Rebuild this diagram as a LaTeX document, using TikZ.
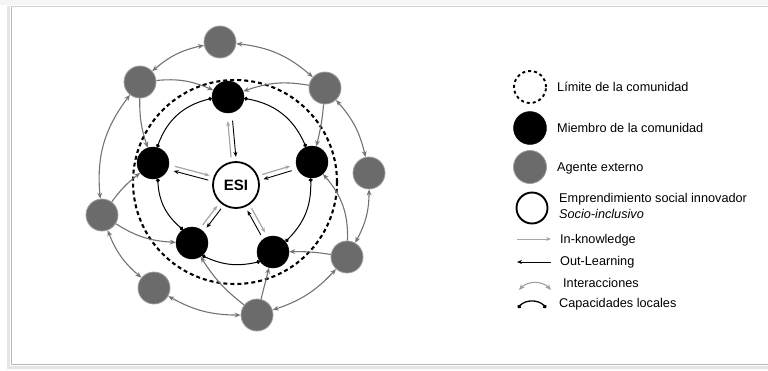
\documentclass[tikz,border=0pt]{standalone}
\usepackage{fontspec}
\setmainfont{Liberation Sans}
\usetikzlibrary{arrows.meta,calc,bending}
\begin{document}
\begin{tikzpicture}[x=1pt,y=1pt,
 agent/.style={circle,fill=black!58,draw=black!38,line width=0.8pt,minimum size=32pt,inner sep=0pt},
 member/.style={circle,fill=black,draw=black,minimum size=32pt,inner sep=0pt},
 esi/.style={circle,fill=white,draw=black,line width=1.8pt,minimum size=46pt,inner sep=0pt,font=\fontsize{15}{15}\selectfont\bfseries},
 inter/.style={draw=black!55,line width=1.1pt,{Stealth[length=6pt,width=4.8pt]}-{Stealth[length=6pt,width=4.8pt]}},
 toward/.style={draw=black!55,line width=1.1pt,-{Stealth[length=6pt,width=4.8pt]}},
 capac/.style={draw=black,line width=1pt,{Circle[length=3.8pt]}-{Circle[length=3.8pt]}},
 inknow/.style={draw=black!35,line width=1.2pt,-{Stealth[length=5pt,width=4pt]}},
 outlearn/.style={draw=black,line width=0.9pt,-{Stealth[length=5pt,width=4pt]}},
 limit/.style={draw=black,line width=2.1pt,dash pattern=on 4pt off 3pt},
 legtext/.style={anchor=west,font=\fontsize{12.7}{15.5}\selectfont,inner sep=0pt,align=left}
]
\useasboundingbox (0,0) rectangle (768,-370);
% frame
\fill[black!4] (0,0) rectangle (768,-5);
\draw[black!10,line width=3pt] (8,-6) -- (8,-367) -- (768,-367);
\draw[black!28,line width=1pt] (11,-6) -- (11,-364.5) -- (768,-364.5);
\draw[black!18,line width=0.8pt] (11,-6) -- (768,-6);

% community limit
\coordinate (C) at (235,-182);
\draw[limit] (C) circle[radius=102];

% nodes
\node[agent] (A1) at (220,-42) {};
\node[agent] (A2) at (140,-82) {};
\node[agent] (A3) at (325,-88) {};
\node[agent] (A4) at (369,-173) {};
\node[agent] (A5) at (347,-257) {};
\node[agent] (A6) at (257,-315) {};
\node[agent] (A7) at (154,-288) {};
\node[agent] (A8) at (102,-215) {};

\node[member] (M1) at (228,-97) {};
\node[member] (M2) at (153,-163) {};
\node[member] (M3) at (312,-162) {};
\node[member] (M4) at (192,-243) {};
\node[member] (M5) at (273,-252) {};

\node[esi] (ESI) at (236,-185) {ESI};

% interactions between external agents
\draw[inter] (A1) to[bend left=18] (A3);
\draw[inter] (A3) to[bend left=15] (A4);
\draw[inter] (A4) to[bend left=15] (A5);
\draw[inter] (A5) to[bend left=15] (A6);
\draw[inter] (A6) to[bend left=15] (A7);
\draw[inter] (A7) to[bend left=15] (A8);
\draw[inter] (A8) to[bend left=22] (A2);
\draw[inter] (A2) to[bend left=15] (A1);

% agents towards members
\draw[toward] (A2) to[bend left=15] (M1);
\draw[toward] (A3) to[bend right=15] (M1);
\draw[toward] (A2) to[bend right=10] (M2);
\draw[toward] (A3) to[bend left=5] (M3);
\draw[toward] (A8) to[bend left=8] (M2);
\draw[toward] (A8) to[bend right=15] (M4);
\draw[toward] (A5) to[bend right=22] (M3);
\draw[toward] (A5) to[bend right=5] (M5);
\draw[toward] (A6) to[bend left=10] (M4);
\draw[toward] (A6) to (M5);

% local capacities
\draw[capac] (M1.185) to[bend right=30] (M2.75);
\draw[capac] (M1.355) to[bend left=30] (M3.112);
\draw[capac] (M2.287) to[bend right=25] (M4.124);
\draw[capac] (M3.265) to[bend left=25] (M5.40);
\draw[capac] (M4.309) to[bend right=20] (M5.216);

% ESI pairs
\draw[inknow] ($(ESI)!28pt!(M1)!2.4pt!90:(M1)$) -- ($(M1)!24pt!(ESI)!2.4pt!-90:(ESI)$);
\draw[outlearn] ($(M1)!24pt!(ESI)!2.4pt!90:(ESI)$) -- ($(ESI)!28pt!(M1)!2.4pt!-90:(M1)$);

\draw[inknow] ($(M2)!22pt!(ESI)!2.4pt!90:(ESI)$) -- ($(ESI)!28pt!(M2)!2.4pt!-90:(M2)$);
\draw[outlearn] ($(ESI)!28pt!(M2)!2.4pt!90:(M2)$) -- ($(M2)!22pt!(ESI)!2.4pt!-90:(ESI)$);

\draw[inknow] ($(ESI)!28pt!(M3)!2.4pt!90:(M3)$) -- ($(M3)!22pt!(ESI)!2.4pt!-90:(ESI)$);
\draw[outlearn] ($(M3)!22pt!(ESI)!2.4pt!90:(ESI)$) -- ($(ESI)!28pt!(M3)!2.4pt!-90:(M3)$);

\draw[inknow] ($(M4)!21pt!(ESI)!2.4pt!90:(ESI)$) -- ($(ESI)!28pt!(M4)!2.4pt!-90:(M4)$);
\draw[outlearn] ($(ESI)!28pt!(M4)!2.4pt!90:(M4)$) -- ($(M4)!21pt!(ESI)!2.4pt!-90:(ESI)$);

\draw[inknow] ($(ESI)!28pt!(M5)!2.4pt!90:(M5)$) -- ($(M5)!21pt!(ESI)!2.4pt!-90:(ESI)$);
\draw[outlearn] ($(M5)!21pt!(ESI)!2.4pt!90:(ESI)$) -- ($(ESI)!28pt!(M5)!2.4pt!-90:(M5)$);

% legend
\node[circle,minimum size=32pt,inner sep=0pt,line width=1.9pt,draw,dash pattern=on 3pt off 3pt] (L1) at (530,-87) {};
\node[legtext] (T1) at (557,-87) {Límite de la comunidad};
\node[member,minimum size=33pt] (L2) at (530,-128) {};
\node[legtext] (T2) at (557,-128) {Miembro de la comunidad};
\node[agent,minimum size=33pt] (L3) at (530,-167) {};
\node[legtext] (T3) at (557,-168) {Agente externo};
\node[circle,draw,line width=1.9pt,minimum size=31pt,inner sep=0pt] (L4) at (532,-208) {};
\node[legtext] (T4) at (559,-206) {Emprendimiento social innovador\\\textit{Socio-inclusivo}};
\coordinate (L5a) at (517,-239);
\coordinate (L5b) at (551,-239);
\draw[inknow,line width=0.9pt] (L5a) -- (L5b);
\node[legtext] (T5) at (560,-240) {In-knowledge};
\coordinate (L6a) at (551,-262);
\coordinate (L6b) at (517,-262);
\draw[outlearn] (L6a) -- (L6b);
\node[legtext] (T6) at (560,-262) {Out-Learning};
\coordinate (L7a) at (519,-290);
\coordinate (L7b) at (551,-290);
\draw[inter,draw=black!38] (L7a) to[bend left=55] (L7b);
\node[legtext] (T7) at (563,-283) {Interacciones};
\coordinate (L8a) at (518,-308);
\coordinate (L8b) at (546,-308);
\draw[capac,line width=1.3pt] (L8a) to[bend left=60] (L8b);
\node[legtext] (T8) at (559,-304) {Capacidades locales};
\end{tikzpicture}
\end{document}
